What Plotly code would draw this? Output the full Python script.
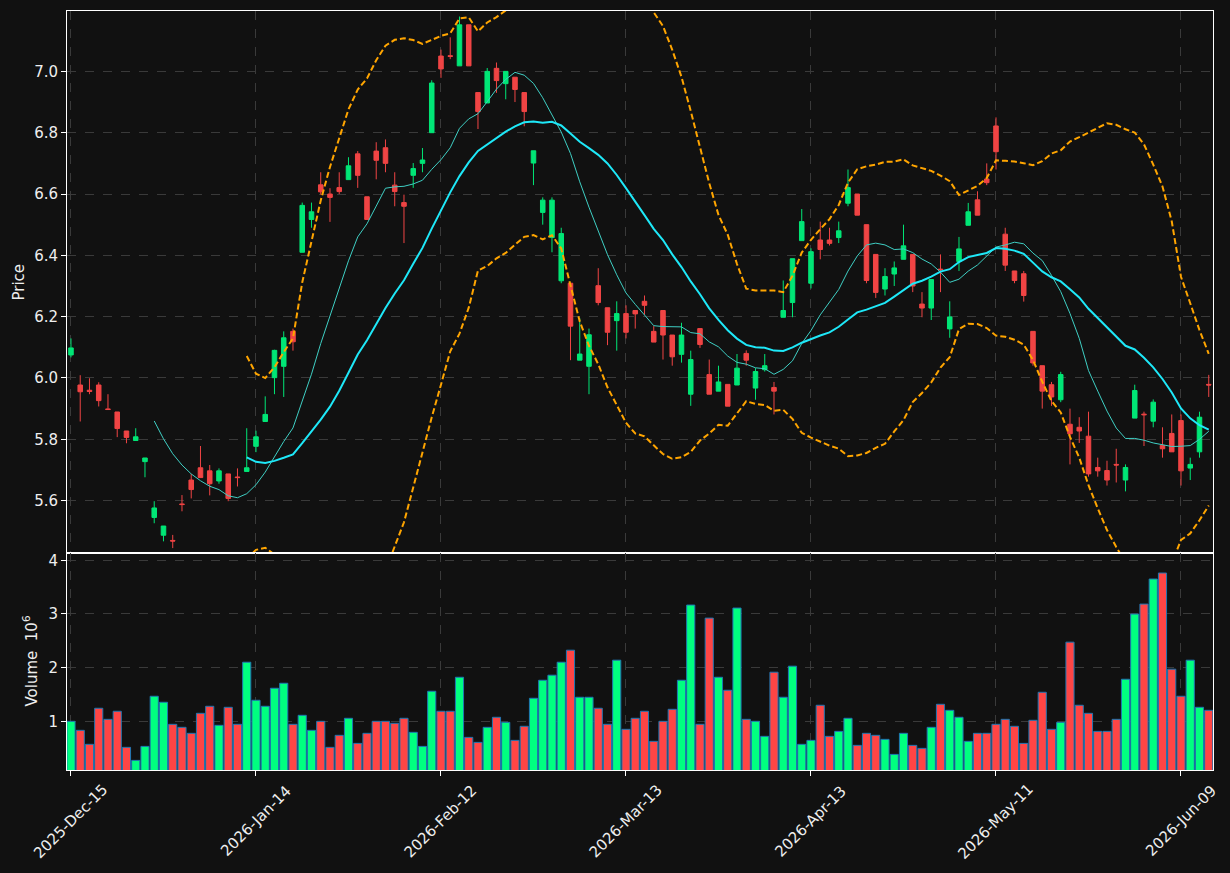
import plotly.graph_objects as go
import pandas as pd

# ---------------- data ----------------
tick_labels = ['2025-Dec-15', '2026-Jan-14', '2026-Feb-12', '2026-Mar-13',
               '2026-Apr-13', '2026-May-11', '2026-Jun-09']
tick_step = 20

opens = [6.075, 5.977, 5.960, 5.977, 5.899, 5.889, 5.827, 5.796, 5.727, 5.545,
         5.487, 5.470, 5.589, 5.667, 5.707, 5.697, 5.664, 5.687, 5.677, 5.695,
         5.777, 5.858, 6.001, 6.038, 6.152, 6.410, 6.517, 6.630, 6.600, 6.621,
         6.647, 6.731, 6.591, 6.740, 6.751, 6.629, 6.572, 6.661, 6.700, 6.800,
         7.050, 7.051, 7.018, 7.152, 6.931, 6.897, 7.010, 6.960, 6.981, 6.931,
         6.701, 6.540, 6.458, 6.317, 6.309, 6.058, 6.038, 6.301, 6.229, 6.187,
         6.210, 6.220, 6.250, 6.152, 6.220, 6.140, 6.077, 5.947, 6.161, 6.011,
         5.957, 5.979, 5.977, 6.080, 5.967, 6.027, 5.969, 6.198, 6.246, 6.448,
         6.309, 6.450, 6.450, 6.458, 6.570, 6.600, 6.500, 6.403, 6.290, 6.339,
         6.387, 6.403, 6.241, 6.228, 6.355, 6.160, 6.380, 6.498, 6.581, 6.649,
         6.822, 6.469, 6.349, 6.340, 6.152, 6.040, 5.978, 5.929, 5.849, 5.839,
         5.810, 5.708, 5.698, 5.718, 5.667, 5.869, 5.882, 5.859, 5.780, 5.819,
         5.861, 5.706, 5.759, 5.979]
highs = [6.129, 6.009, 5.999, 5.986, 5.947, 5.889, 5.827, 5.836, 5.739, 5.598,
         5.517, 5.488, 5.618, 5.687, 5.778, 5.716, 5.705, 5.687, 5.705, 5.836,
         5.828, 5.940, 6.092, 6.152, 6.161, 6.572, 6.572, 6.671, 6.619, 6.671,
         6.720, 6.740, 6.591, 6.769, 6.778, 6.671, 6.598, 6.701, 6.750, 6.971,
         7.071, 7.111, 7.179, 7.152, 6.931, 7.011, 7.029, 7.000, 6.981, 6.931,
         6.741, 6.589, 6.589, 6.490, 6.309, 6.195, 6.161, 6.358, 6.229, 6.250,
         6.237, 6.220, 6.269, 6.169, 6.220, 6.140, 6.180, 6.089, 6.161, 6.060,
         6.040, 5.979, 6.078, 6.090, 6.032, 6.078, 5.987, 6.318, 6.389, 6.551,
         6.423, 6.510, 6.490, 6.510, 6.680, 6.600, 6.500, 6.403, 6.358, 6.380,
         6.500, 6.403, 6.280, 6.321, 6.403, 6.250, 6.460, 6.571, 6.609, 6.700,
         6.850, 6.490, 6.349, 6.349, 6.152, 6.040, 5.987, 6.020, 5.900, 5.872,
         5.890, 5.740, 5.730, 5.769, 5.718, 5.978, 5.890, 5.930, 5.839, 5.881,
         5.881, 5.740, 5.890, 6.010]
lows = [6.067, 5.858, 5.947, 5.907, 5.896, 5.807, 5.787, 5.796, 5.676, 5.526,
        5.467, 5.445, 5.565, 5.607, 5.675, 5.617, 5.655, 5.598, 5.646, 5.695,
        5.758, 5.858, 5.947, 5.938, 6.089, 6.410, 6.490, 6.598, 6.509, 6.600,
        6.647, 6.620, 6.517, 6.648, 6.671, 6.560, 6.440, 6.620, 6.671, 6.800,
        6.979, 7.040, 7.018, 7.018, 6.812, 6.897, 6.930, 6.909, 6.900, 6.821,
        6.629, 6.500, 6.410, 6.309, 6.058, 6.058, 5.947, 6.237, 6.107, 6.089,
        6.129, 6.161, 6.206, 6.117, 6.060, 6.040, 6.050, 5.909, 6.098, 5.947,
        5.957, 5.908, 5.977, 6.040, 5.929, 6.021, 5.881, 6.198, 6.198, 6.448,
        6.292, 6.387, 6.432, 6.440, 6.560, 6.531, 6.309, 6.261, 6.269, 6.300,
        6.387, 6.280, 6.198, 6.189, 6.280, 6.131, 6.349, 6.498, 6.531, 6.629,
        6.680, 6.349, 6.309, 6.249, 6.040, 5.900, 5.909, 5.921, 5.718, 5.788,
        5.678, 5.678, 5.649, 5.659, 5.630, 5.869, 5.778, 5.839, 5.740, 5.759,
        5.649, 5.667, 5.740, 5.938]
closes = [6.098, 5.955, 5.956, 5.926, 5.897, 5.835, 5.806, 5.808, 5.739, 5.576,
          5.517, 5.468, 5.587, 5.636, 5.675, 5.655, 5.697, 5.607, 5.675, 5.707,
          5.808, 5.881, 6.090, 6.131, 6.118, 6.563, 6.542, 6.607, 6.589, 6.608,
          6.692, 6.661, 6.517, 6.710, 6.700, 6.608, 6.560, 6.683, 6.711, 6.962,
          7.008, 7.049, 7.152, 7.018, 6.869, 7.000, 6.970, 7.000, 6.941, 6.869,
          6.741, 6.580, 6.580, 6.471, 6.169, 6.078, 6.141, 6.246, 6.149, 6.210,
          6.149, 6.209, 6.237, 6.117, 6.140, 6.069, 6.140, 6.060, 6.109, 5.947,
          5.987, 5.908, 6.032, 6.058, 6.021, 6.040, 5.957, 6.220, 6.389, 6.510,
          6.412, 6.419, 6.439, 6.480, 6.621, 6.531, 6.318, 6.279, 6.331, 6.359,
          6.431, 6.300, 6.228, 6.321, 6.353, 6.199, 6.421, 6.542, 6.531, 6.637,
          6.738, 6.368, 6.318, 6.269, 6.049, 5.957, 5.938, 6.011, 5.818, 5.827,
          5.687, 5.697, 5.667, 5.716, 5.708, 5.959, 5.880, 5.921, 5.769, 5.759,
          5.697, 5.718, 5.872, 5.977]
volume_millions = [1.000, 0.832, 0.571, 1.243, 1.037, 1.187, 0.515, 0.272, 0.533, 1.467,
                   1.355, 0.944, 0.888, 0.776, 1.149, 1.280, 0.925, 1.261, 0.944, 2.101,
                   1.392, 1.280, 1.616, 1.709, 0.944, 1.112, 0.832, 1.000, 0.515, 0.739,
                   1.056, 0.589, 0.776, 1.000, 1.000, 0.963, 1.056, 0.795, 0.533, 1.560,
                   1.187, 1.187, 1.821, 0.701, 0.608, 0.888, 1.075, 0.981, 0.645, 0.907,
                   1.429, 1.765, 1.859, 2.101, 2.325, 1.448, 1.448, 1.243, 0.944, 2.139,
                   0.851, 1.056, 1.187, 0.627, 1.000, 1.224, 1.765, 3.166, 0.944, 2.923,
                   1.821, 1.579, 3.110, 1.037, 1.000, 0.720, 1.915, 1.448, 2.027, 0.571,
                   0.645, 1.299, 0.720, 0.813, 1.056, 0.552, 0.776, 0.739, 0.664, 0.384,
                   0.776, 0.552, 0.496, 0.888, 1.317, 1.205, 1.075, 0.627, 0.776, 0.776,
                   0.944, 1.037, 0.907, 0.589, 1.019, 1.541, 0.851, 0.981, 2.475, 1.299,
                   1.149, 0.813, 0.813, 1.037, 1.784, 2.998, 3.184, 3.651, 3.763, 1.971,
                   1.467, 2.139, 1.261, 1.205]

# ---------------- derived ----------------
n = len(closes)
xs = list(range(n))
close_s = pd.Series(closes)
ma10 = close_s.rolling(10).mean()
ma20 = close_s.rolling(20).mean()
sd20 = close_s.rolling(20).std()
bb_up = ma20 + 2 * sd20
bb_lo = ma20 - 2 * sd20

UP_C = '#00e676'
DN_C = '#f04444'
VUP_C = '#00ff80'
VDN_C = '#ff4545'
vol_colors = [VUP_C if c >= o else VDN_C for o, c in zip(opens, closes)]

BG = '#111111'
GRID = '#3a3a3a'
TXT = '#eeeeee'
FONT = 'DejaVu Sans'

fig = go.Figure()
fig.add_trace(go.Candlestick(
    x=xs, open=opens, high=highs, low=lows, close=closes,
    increasing=dict(line=dict(color=UP_C, width=1), fillcolor=UP_C),
    decreasing=dict(line=dict(color=DN_C, width=1), fillcolor=DN_C),
    xaxis='x', yaxis='y', showlegend=False))
fig.add_trace(go.Scatter(x=xs, y=bb_up, mode='lines',
                         line=dict(color='#ffa500', width=2, dash='6px,3px'),
                         xaxis='x', yaxis='y', showlegend=False))
fig.add_trace(go.Scatter(x=xs, y=bb_lo, mode='lines',
                         line=dict(color='#ffa500', width=2, dash='6px,3px'),
                         xaxis='x', yaxis='y', showlegend=False))
fig.add_trace(go.Scatter(x=xs, y=ma10, mode='lines',
                         line=dict(color='#3fcfc4', width=1),
                         xaxis='x', yaxis='y', showlegend=False))
fig.add_trace(go.Scatter(x=xs, y=ma20, mode='lines',
                         line=dict(color='#1ee8f8', width=2),
                         xaxis='x', yaxis='y', showlegend=False))
fig.add_trace(go.Bar(x=xs, y=volume_millions, width=0.88,
                     marker=dict(color=vol_colors, line=dict(color='#1f77b4', width=1)),
                     xaxis='x2', yaxis='y2', showlegend=False))

tickvals = [i * tick_step for i in range(len(tick_labels))]
xrange = [-0.43, 123.46]
vol_frac = 217 / 759

common_x = dict(range=xrange, tickvals=tickvals, showticklabels=False,
                showgrid=True, gridcolor=GRID, griddash='dash', gridwidth=1,
                zeroline=False, showline=True, mirror=True, linecolor='white',
                linewidth=1)
common_y = dict(showgrid=True, gridcolor=GRID, griddash='dash', gridwidth=1,
                zeroline=False, showline=True, mirror=True, linecolor='white',
                linewidth=1, ticks='outside', ticklen=5, tickcolor='white',
                tickfont=dict(family=FONT, size=15, color=TXT))

fig.update_layout(
    width=1230, height=873,
    margin=dict(l=67, r=17, t=11, b=103),
    paper_bgcolor=BG, plot_bgcolor=BG,
    font=dict(family=FONT, size=15, color=TXT),
    showlegend=False,
    xaxis=dict(domain=[0, 1], anchor='y', rangeslider=dict(visible=False),
               ticks='', **common_x),
    xaxis2=dict(domain=[0, 1], anchor='y2', matches='x', ticks='outside',
                ticklen=5, tickcolor='white', **common_x),
    yaxis=dict(domain=[vol_frac, 1], anchor='x', range=[5.429, 7.197],
               tickvals=[5.6, 5.8, 6.0, 6.2, 6.4, 6.6, 6.8, 7.0],
               tickformat='.1f', **common_y),
    yaxis2=dict(domain=[0, vol_frac], anchor='x2', range=[0.093, 4.136],
                tickvals=[1, 2, 3, 4], **common_y),
)

annotations = []
for tv, lab in zip(tickvals, tick_labels):
    annotations.append(dict(x=tv, y=-51 / 759, xref='x2', yref='paper',
                            text=lab, textangle=-45, showarrow=False,
                            xanchor='center', yanchor='middle',
                            font=dict(family=FONT, size=15, color=TXT)))
annotations.append(dict(x=(18.5 - 67) / 1146, y=(vol_frac + 1) / 2, xref='paper',
                        yref='paper', text='Price', textangle=-90, showarrow=False,
                        xanchor='center', yanchor='middle',
                        font=dict(family=FONT, size=15, color=TXT)))
annotations.append(dict(x=(30 - 67) / 1146, y=vol_frac / 2, xref='paper',
                        yref='paper', text='Volume\u00a0\u00a010<sup>6</sup>',
                        textangle=-90, showarrow=False,
                        xanchor='center', yanchor='middle',
                        font=dict(family=FONT, size=15, color=TXT)))
fig.update_layout(annotations=annotations)

fig.write_html('out.html')
